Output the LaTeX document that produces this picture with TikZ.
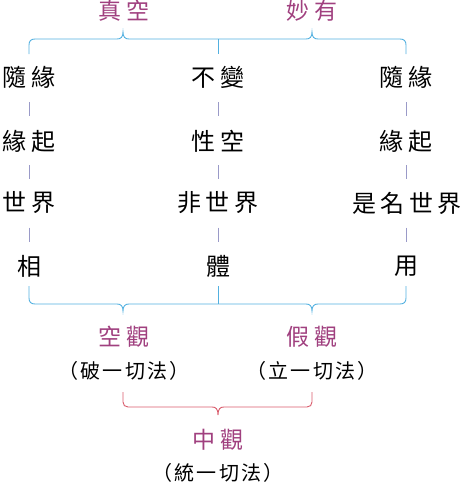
\documentclass[tikz,border=0pt]{standalone}
\usepackage{fontspec}
\usetikzlibrary{calc}
\newfontfamily\cjkw[LetterSpace=18]{Noto Sans CJK TC}
\newfontfamily\cjkp[LetterSpace=12]{Noto Sans CJK TC}
\newcommand\bigcjk{\cjkw\fontsize{24}{28}\selectfont}
\newcommand\purcjk{\cjkw\fontsize{23}{27}\selectfont}
\newcommand\smallcjk{\cjkp\fontsize{20}{24}\selectfont}
\definecolor{braceblue}{HTML}{52B0E0}
\definecolor{tickcol}{HTML}{9A9AC8}
\definecolor{purp}{HTML}{A0407F}
\definecolor{bracered}{HTML}{D95B6B}
\newcommand\tickbetween[2]{\draw[tick] ($(#1.center)!0.5!(#2.center)+(0,-7)$) -- ($(#1.center)!0.5!(#2.center)+(0,7)$);}
\begin{document}
\begin{tikzpicture}[x=1pt,y=-1pt,
  blk/.style={font=\bigcjk, text=black, inner sep=0pt},
  pur/.style={font=\purcjk, text=purp, inner sep=0pt},
  par/.style={font=\smallcjk, text=black, inner sep=0pt},
  brace/.style={draw=braceblue, line width=0.9pt},
  rbrace/.style={draw=bracered, line width=0.9pt},
  tick/.style={draw=tickcol, line width=0.8pt}]
\useasboundingbox (0,0) rectangle (466,483);
% top labels
\node[pur] (zk) at (124,11) {真空};
\node[pur] (my) at (312,11) {妙有};
% top brace
\coordinate (tbl) at (29,54);
\coordinate (tbr) at (406,54);
\coordinate (tbc) at (218,39);
\coordinate (tbce) at (218,54);
\draw[brace] (tbl) -- (29,45) .. controls (29,41) and (31,39) .. (35,39) -- (117,39)
  .. controls (121,39) and (123,37) .. (123,32) .. controls (123,37) and (125,39) .. (129,39)
  -- (306,39) .. controls (310,39) and (312,37) .. (312,32) .. controls (312,37) and (314,39) .. (318,39)
  -- (400,39) .. controls (404,39) and (406,41) .. (406,45) -- (tbr);
\draw[brace] (tbc) -- (tbce);
% columns
\node[blk] (l1) at (29,77) {隨緣};
\node[blk] (l2) at (29,141) {緣起};
\node[blk] (l3) at (29,203) {世界};
\node[blk] (l4) at (29,266) {相};
\node[blk] (c1) at (218,77) {不變};
\node[blk] (c2) at (218,141) {性空};
\node[blk] (c3) at (218,203) {非世界};
\node[blk] (c4) at (218,266) {體};
\node[blk] (r1) at (406,77) {隨緣};
\node[blk] (r2) at (406,141) {緣起};
\node[blk] (r3) at (407,203) {是名世界};
\node[blk] (r4) at (406,266) {用};
\foreach \c in {l,c,r} {
  \tickbetween{\c1}{\c2}
  \tickbetween{\c2}{\c3}
  \tickbetween{\c3}{\c4}
}
% bottom brace
\coordinate (bbl) at (29,286);
\coordinate (bbr) at (406,286);
\coordinate (bbc) at (218,286);
\coordinate (bbce) at (218,304);
\draw[brace] (bbl) -- (29,298) .. controls (29,302) and (31,304) .. (35,304) -- (117,304)
  .. controls (121,304) and (123,306) .. (123,311) .. controls (123,306) and (125,304) .. (129,304)
  -- (306,304) .. controls (310,304) and (312,306) .. (312,311) .. controls (312,306) and (314,304) .. (318,304)
  -- (400,304) .. controls (404,304) and (406,302) .. (406,298) -- (bbr);
\draw[brace] (bbc) -- (bbce);
% lower labels
\node[pur] (kg) at (124,337) {空觀};
\node[pur] (jg) at (312,337) {假觀};
\node[par] (kp) at (124,371) {（破一切法）};
\node[par] (jp) at (312,371) {（立一切法）};
% red brace
\coordinate (rbl) at (123,392);
\coordinate (rbr) at (312,392);
\draw[rbrace] (rbl) -- (123,402) .. controls (123,405) and (125,407) .. (128,407) -- (212,407)
  .. controls (216,407) and (218,409) .. (218,415) .. controls (218,409) and (220,407) .. (224,407)
  -- (307,407) .. controls (310,407) and (312,405) .. (312,402) -- (rbr);
\node[pur] (zg) at (218,440) {中觀};
\node[par] (zp) at (218,473) {（統一切法）};
\end{tikzpicture}
\end{document}
